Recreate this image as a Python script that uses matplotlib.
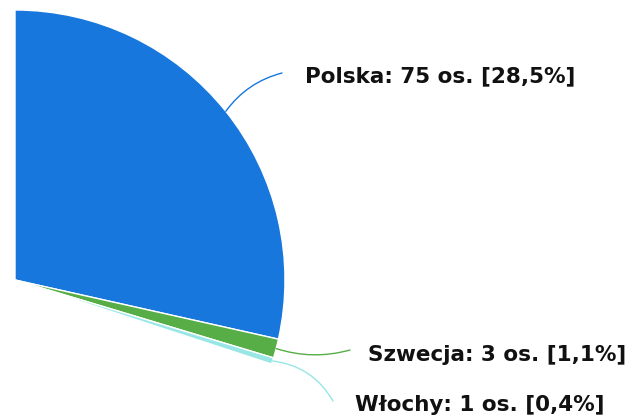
import matplotlib.pyplot as plt
import numpy as np

# dane (liczba osób wg kraju) - reszta wykresu jest poza kadrem
kraje = ['Polska', 'Szwecja', 'Włochy', 'pozostałe']
osoby = [75, 3, 1, 184]
kolory = ['#1777dc', '#57ad46', '#98e6e6', 'none']
etykiety = ['Polska: 75 os. [28,5%]', 'Szwecja: 3 os. [1,1%]', 'Włochy: 1 os. [0,4%]']

W, H = 633, 418
fig = plt.figure(figsize=(W/100, H/100), dpi=100)
ax = fig.add_axes([0, 0, 1, 1])

srodek = (15, 280)
R = 270
wedges, _ = ax.pie(osoby, colors=kolory, radius=R, center=srodek,
                   startangle=-90, counterclock=True,
                   wedgeprops=dict(edgecolor='white', linewidth=1))
wedges[3].set_edgecolor('none')

ax.set_xlim(0, W)
ax.set_ylim(H, 0)
ax.set_aspect('equal')
ax.axis('off')

# etykiety z liniami
pos_tekst = [(305, 76), (368, 355), (355, 405)]
koniec = [(282, 73), (350, 350), (333, 401)]
rad = [0.18, -0.15, 0.25]
for i in range(3):
    w = wedges[i]
    kat = np.deg2rad((w.theta1 + w.theta2) / 2)
    px = srodek[0] + R*np.cos(kat)
    py = srodek[1] + R*np.sin(kat)
    ax.annotate('', xy=(px, py), xytext=koniec[i],
                arrowprops=dict(arrowstyle='-', color=kolory[i], lw=1,
                                connectionstyle='arc3,rad=%s' % rad[i],
                                shrinkA=0, shrinkB=0))
    ax.text(pos_tekst[i][0], pos_tekst[i][1], etykiety[i], fontsize=15.5,
            fontweight='bold', color='#111111', ha='left', va='center')

plt.savefig('out.png', dpi=100)
plt.close()
